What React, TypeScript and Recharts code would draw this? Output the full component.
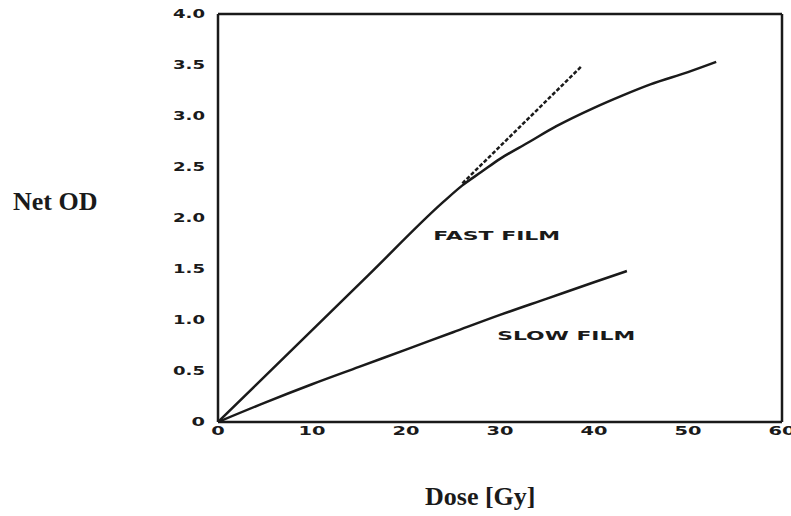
import React from "react";
import { LineChart, Line, XAxis, YAxis, ReferenceLine, ReferenceDot } from "recharts";

// Ink colour of the scanned figure
const ink = "#1a1a1a";

// Axis ticks
const doseTicks = [0, 10, 20, 30, 40, 50, 60];
const odTicks = [0, 0.5, 1.0, 1.5, 2.0, 2.5, 3.0, 3.5, 4.0];

// Fast film response (dose Gy -> net OD)
const fastDose = [0, 8, 16, 24, 26, 28, 30, 33, 36, 40, 43, 46, 50, 53];
const fastOD = [0, 0.72, 1.44, 2.16, 2.32, 2.45, 2.58, 2.74, 2.9, 3.08, 3.2, 3.31, 3.43, 3.53];

// Linear extrapolation of the fast film (dashed)
const extrapDose = [26, 38.7];
const extrapOD = [2.34, 3.49];

// Slow film response
const slowDose = [0, 5, 10, 15, 20, 25, 30, 35, 40, 43.5];
const slowOD = [0, 0.19, 0.37, 0.54, 0.71, 0.88, 1.05, 1.21, 1.37, 1.48];

const toPoints = (xs: number[], ys: number[]) => xs.map((x, i) => ({ dose: x, od: ys[i] }));
const fastData = toPoints(fastDose, fastOD);
const extrapData = toPoints(extrapDose, extrapOD);
const slowData = toPoints(slowDose, slowOD);

// the original uses a very wide, heavy sans for ticks; stretch glyphs to match
const tickWidth = (s: string) => s.replace(".", "").length * 13.5 + (s.includes(".") ? 5 : 0);

const fmtOD = (v: number) => (v === 0 ? "0" : v.toFixed(1));

const XTick = (props: any) => {
  const label = String(props.payload.value);
  return (
    <text
      x={props.x}
      y={props.y}
      dy={4}
      textAnchor="middle"
      fontFamily="DejaVu Sans"
      fontWeight={900}
      fontSize={11.5}
      fill={ink}
      textLength={tickWidth(label)}
      lengthAdjust="spacingAndGlyphs"
    >
      {label}
    </text>
  );
};

const YTick = (props: any) => {
  const label = fmtOD(props.payload.value);
  return (
    <text
      x={props.x}
      y={props.y}
      dy={4}
      textAnchor="end"
      fontFamily="DejaVu Sans"
      fontWeight={900}
      fontSize={11.5}
      fill={ink}
      textLength={tickWidth(label)}
      lengthAdjust="spacingAndGlyphs"
    >
      {label}
    </text>
  );
};

const filmLabel = (text: string) => (props: any) => {
  const { viewBox } = props;
  return (
    <text
      x={viewBox.x}
      y={viewBox.y}
      dy={5}
      fontFamily="DejaVu Sans"
      fontWeight={900}
      fontSize={12.5}
      fill={ink}
      textLength={text === "FAST FILM" ? 127 : 138}
      lengthAdjust="spacingAndGlyphs"
    >
      {text}
    </text>
  );
};

export default function App() {
  return (
    <div style={{ position: "absolute", left: 0, top: 0, width: 791, height: 516, background: "#fff" }}>
      <LineChart width={791} height={516} margin={{ top: 14, right: 9, bottom: 54, left: 158 }}>
        <XAxis
          type="number"
          dataKey="dose"
          domain={[0, 60]}
          ticks={doseTicks}
          allowDataOverflow
          stroke={ink}
          strokeWidth={2.5}
          tickLine={false}
          tickSize={0}
          tickMargin={9}
          tick={<XTick />}
          height={40}
        />
        <YAxis
          type="number"
          dataKey="od"
          domain={[0, 4]}
          ticks={odTicks}
          allowDataOverflow
          stroke={ink}
          strokeWidth={2.5}
          tickLine={false}
          tickSize={0}
          tickMargin={13}
          tick={<YTick />}
          width={60}
        />
        <ReferenceLine y={4} stroke={ink} strokeWidth={2.5} ifOverflow="extendDomain" />
        <ReferenceLine x={60} stroke={ink} strokeWidth={2.5} ifOverflow="extendDomain" />
        <Line
          data={fastData}
          dataKey="od"
          type="monotone"
          stroke={ink}
          strokeWidth={2.5}
          dot={false}
          isAnimationActive={false}
        />
        <Line
          data={extrapData}
          dataKey="od"
          type="linear"
          stroke={ink}
          strokeWidth={2.5}
          strokeDasharray="4 2"
          dot={false}
          isAnimationActive={false}
        />
        <Line
          data={slowData}
          dataKey="od"
          type="monotone"
          stroke={ink}
          strokeWidth={2.5}
          dot={false}
          isAnimationActive={false}
        />
        <ReferenceDot x={22.9} y={1.83} r={0} fill="none" stroke="none" label={filmLabel("FAST FILM")} />
        <ReferenceDot x={29.7} y={0.85} r={0} fill="none" stroke="none" label={filmLabel("SLOW FILM")} />
      </LineChart>
      <div
        style={{
          position: "absolute",
          left: 13,
          top: 187,
          fontFamily: "Liberation Serif",
          fontWeight: "bold",
          fontSize: 26,
          color: ink,
          whiteSpace: "nowrap",
        }}
      >
        Net OD
      </div>
      <div
        style={{
          position: "absolute",
          left: 425,
          top: 482,
          fontFamily: "Liberation Serif",
          fontWeight: "bold",
          fontSize: 26,
          color: ink,
          whiteSpace: "nowrap",
        }}
      >
        Dose [Gy]
      </div>
    </div>
  );
}
